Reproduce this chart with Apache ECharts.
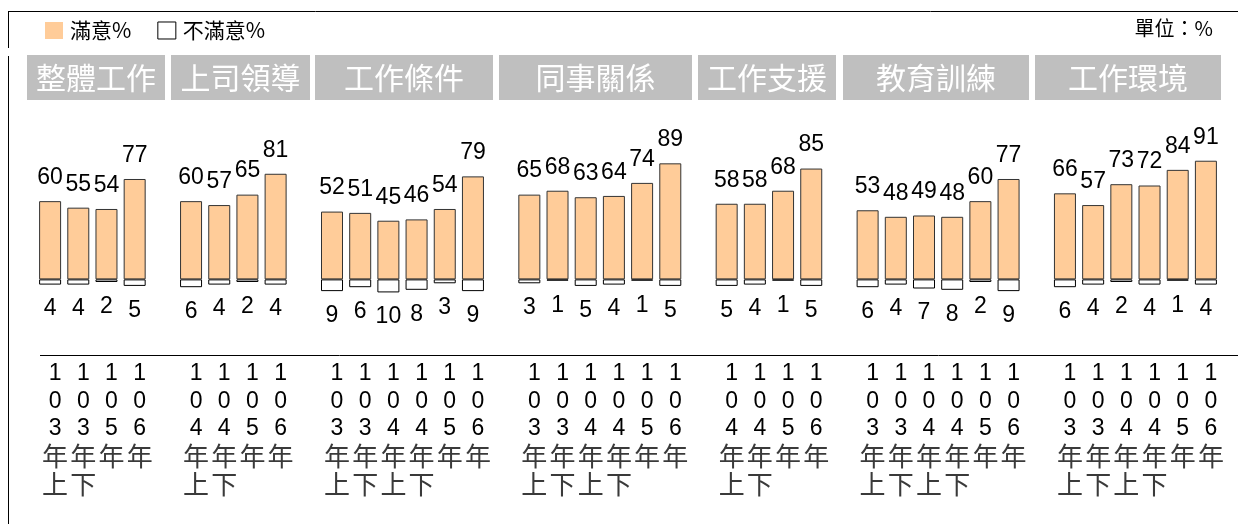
<!DOCTYPE html>
<html>
<head>
<meta charset="utf-8">
<script src="https://cdn.jsdelivr.net/npm/echarts@6/dist/echarts.min.js"></script>
<style>
  html, body { margin: 0; padding: 0; background: #fff; }
  #chart { width: 1238px; height: 524px; }
</style>
</head>
<body>
<div id="chart"></div>
<script>
// Survey groups and the periods surveyed in each group
const groups = ['整體工作', '上司領導', '工作條件', '同事關係', '工作支援', '教育訓練', '工作環境'];
const periods = [
  ['103年上', '103年下', '105年', '106年'],
  ['104年上', '104年下', '105年', '106年'],
  ['103年上', '103年下', '104年上', '104年下', '105年', '106年'],
  ['103年上', '103年下', '104年上', '104年下', '105年', '106年'],
  ['104年上', '104年下', '105年', '106年'],
  ['103年上', '103年下', '104年上', '104年下', '105年', '106年'],
  ['103年上', '103年下', '104年上', '104年下', '105年', '106年']
];
// Satisfied share (%) per period
const satisfied = [
  [60, 55, 54, 77],
  [60, 57, 65, 81],
  [52, 51, 45, 46, 54, 79],
  [65, 68, 63, 64, 74, 89],
  [58, 58, 68, 85],
  [53, 48, 49, 48, 60, 77],
  [66, 57, 73, 72, 84, 91]
];
// Dissatisfied share (%) per period, drawn below the baseline
const dissatisfied = [
  [4, 4, 2, 5],
  [6, 4, 2, 4],
  [9, 6, 10, 8, 3, 9],
  [3, 1, 5, 4, 1, 5],
  [5, 4, 1, 5],
  [6, 4, 7, 8, 2, 9],
  [6, 4, 2, 4, 1, 4]
];
const seriesNames = ['滿意%', '不滿意%'];
const unitText = '單位：%';

// Header banner extents (left, right) in pixels
const headerBoxes = [[27, 165], [171, 310], [315, 493], [499, 692], [698, 836], [843, 1029], [1035, 1221]];

// One category slot per period, with an empty slot between groups
const categories = [];
const satData = [];
const disData = [];
groups.forEach((g, gi) => {
  if (gi > 0) {
    categories.push('gap' + gi);
    satData.push(null);
    disData.push(null);
  }
  periods[gi].forEach((p, pi) => {
    categories.push(g + '|' + p);
    satData.push(satisfied[gi][pi]);
    disData.push(-dissatisfied[gi][pi]);
  });
});

const FONT_NUM = '"Liberation Sans", Arial, "Noto Sans CJK TC", sans-serif';
const FONT_CJK = '"Noto Sans CJK TC", "Liberation Sans", sans-serif';

const graphic = [
  // frame lines
  { type: 'line', shape: { x1: 8, y1: 11.5, x2: 1238, y2: 11.5 }, style: { stroke: '#000', lineWidth: 1 } },
  { type: 'line', shape: { x1: 8.5, y1: 11, x2: 8.5, y2: 48 }, style: { stroke: '#000', lineWidth: 1 } },
  { type: 'line', shape: { x1: 8.5, y1: 56, x2: 8.5, y2: 524 }, style: { stroke: '#000', lineWidth: 1 } },
  // separator above the period labels
  { type: 'line', shape: { x1: 40, y1: 355.5, x2: 1238, y2: 355.5 }, style: { stroke: '#000', lineWidth: 1 } },
  { type: 'text', right: 25, top: 18, style: { text: unitText, font: '20px ' + FONT_CJK, fill: '#000' } }
];
groups.forEach((g, gi) => {
  const [x0, x1] = headerBoxes[gi];
  graphic.push({
    type: 'rect',
    shape: { x: x0, y: 55, width: x1 - x0, height: 45 },
    style: { fill: '#BFBFBF' }
  });
  graphic.push({
    type: 'text',
    x: (x0 + x1) / 2,
    y: 78,
    style: { text: g, font: '30px ' + FONT_CJK, fill: '#fff', align: 'center', verticalAlign: 'middle' }
  });
});

// Period label written top-to-bottom, one character per line
function verticalLabel(v) {
  const p = v.split('|')[1];
  if (!p) return '';
  return p.split('').map(ch => (/[0-9]/.test(ch) ? '{n|' + ch + '}' : '{c|' + ch + '}')).join('\n');
}

const chart = echarts.init(document.getElementById('chart'));
chart.setOption({
  animation: false,
  backgroundColor: '#fff',
  legend: {
    left: 45,
    top: 20,
    padding: 0,
    icon: 'rect',
    itemWidth: 18,
    itemHeight: 17,
    itemGap: 26,
    textStyle: { fontSize: 21, fontFamily: FONT_CJK, color: '#000', padding: [0, 0, 0, 2] },
    data: [
      { name: seriesNames[0], itemStyle: { borderWidth: 0 } },
      { name: seriesNames[1], itemStyle: { borderColor: '#000', borderWidth: 1 } }
    ]
  },
  grid: { left: 36, right: 18, top: 149, height: 206, containLabel: false },
  xAxis: {
    type: 'category',
    data: categories,
    axisLine: { show: false, onZero: false },
    axisTick: { show: false },
    splitLine: { show: false },
    axisLabel: {
      interval: 0,
      margin: 5,
      padding: [0, 0, 0, 10],
      formatter: verticalLabel,
      rich: {
        n: { fontSize: 23, lineHeight: 27.5, color: '#000', fontFamily: FONT_NUM },
        c: { fontSize: 26, lineHeight: 27.5, color: '#3a3a3a', fontFamily: FONT_CJK }
      }
    }
  },
  yAxis: { type: 'value', min: -58, max: 100, show: false, splitLine: { show: false } },
  graphic: graphic,
  series: [
    {
      name: seriesNames[0],
      type: 'bar',
      data: satData,
      barWidth: 22,
      barGap: '-100%',
      itemStyle: { color: '#FFCC99', borderColor: '#333', borderWidth: 1 },
      label: {
        show: true,
        position: 'top',
        distance: 12,
        fontSize: 23,
        fontFamily: FONT_NUM,
        color: '#000'
      }
    },
    {
      name: seriesNames[1],
      type: 'bar',
      data: disData,
      barWidth: 22,
      barGap: '-100%',
      itemStyle: { color: '#fff', borderColor: '#000', borderWidth: 1 },
      label: {
        show: true,
        position: 'bottom',
        distance: 13,
        fontSize: 23,
        fontFamily: FONT_NUM,
        color: '#000',
        formatter: p => Math.abs(p.value)
      }
    }
  ]
});
</script>
</body>
</html>
